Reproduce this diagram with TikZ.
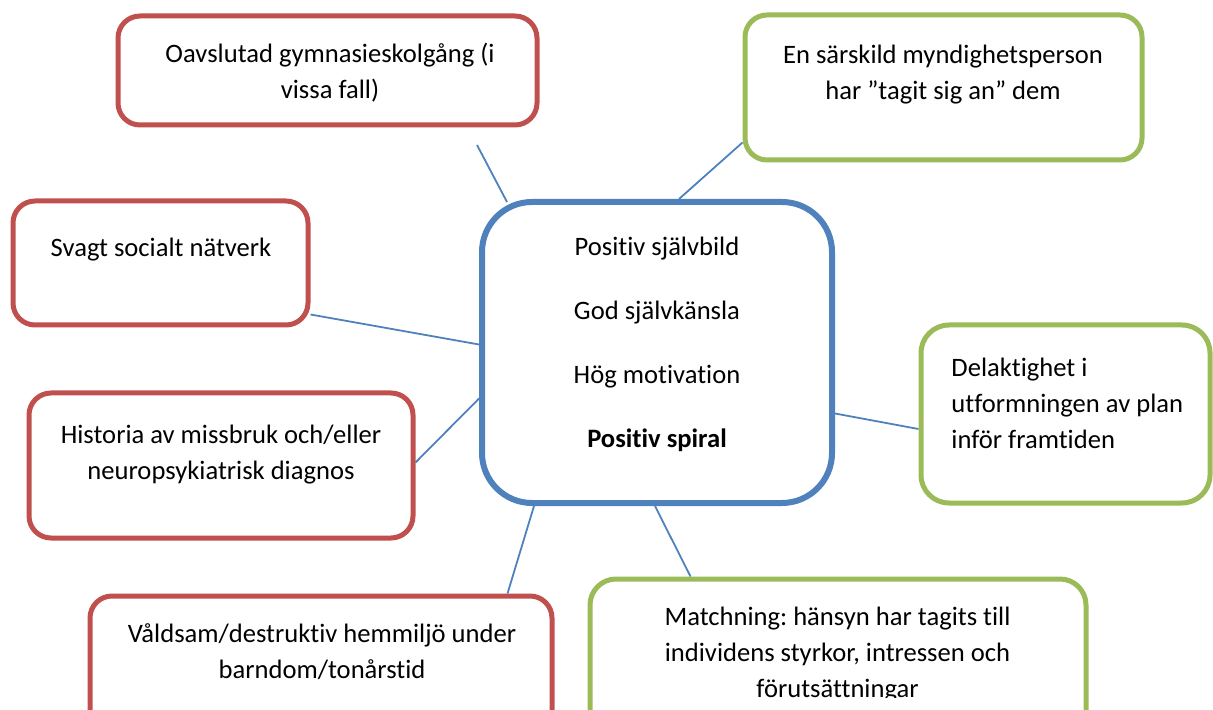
\documentclass[tikz,border=0pt]{standalone}
\usepackage{fontspec}
\setmainfont{Carlito}[Ligatures={NoCommon}]
\frenchspacing
\usetikzlibrary{calc}
\definecolor{boxred}{HTML}{C0504D}
\definecolor{boxgreen}{HTML}{9BBB59}
\definecolor{boxblue}{HTML}{4F81BD}

\begin{document}
\begin{tikzpicture}[x=0.5pt, y=-0.5pt,
	box/.style={draw, rounded corners=11pt, line width=2.5pt, inner sep=0pt},
	redbox/.style={box, draw=boxred},
	greenbox/.style={box, draw=boxgreen},
	bluebox/.style={box, draw=boxblue, line width=3pt, rounded corners=25pt},
	txt/.style={align=center, font=\fontsize{13.3}{18}\selectfont, inner sep=0pt},
	link/.style={draw=boxblue, line width=0.9pt}]

	% page frame, the bottom boxes run off the page
	\useasboundingbox (0,0) rectangle (1213,710);
	\clip (0,0) rectangle (1213,710);

	% centre box
	\node[bluebox, minimum width=175pt, minimum height=150.5pt] (ctr) at (657,352.5) {};
	\node[txt, font=\fontsize{13.3}{32}\selectfont] (ctrtxt) at (657,344)
		{Positiv självbild\\God självkänsla\\Hög motivation\\\textbf{Positiv spiral}};

	% red boxes (risk)
	\node[redbox, minimum width=209.5pt, minimum height=54.5pt] (gym) at (327.5,70.5) {};
	\node[txt] (gymtxt) at (330,73) {Oavslutad gymnasieskolgång (i\\vissa fall)};

	\node[redbox, minimum width=147.5pt, minimum height=62pt] (svagt) at (160.5,263) {};
	\node[txt] (svagttxt) at (161,250) {Svagt socialt nätverk};

	\node[redbox, minimum width=192pt, minimum height=72.5pt] (hist) at (221,465.5) {};
	\node[txt] (histtxt) at (221,455) {Historia av missbruk och/eller\\neuropsykiatrisk diagnos};

	\node[redbox, minimum width=231pt, minimum height=72pt] (vald) at (321,668) {};
	\node[txt] (valdtxt) at (322,652) {Våldsam/destruktiv hemmiljö under\\barndom/tonårstid};

	% green boxes (protective)
	\node[greenbox, minimum width=198.5pt, minimum height=72.5pt] (myn) at (943.5,87.5) {};
	\node[txt] (myntxt) at (943,75) {En särskild myndighetsperson\\har ”tagit sig an” dem};

	\node[greenbox, rounded corners=14pt, minimum width=144.5pt, minimum height=89pt] (del) at (1065.5,414) {};
	\node[txt, align=left, anchor=west] (deltxt) at (951,403)
		{Delaktighet i\\utformningen av plan\\inför framtiden};

	\node[greenbox, rounded corners=13pt, minimum width=248pt, minimum height=80.5pt] (match) at (838,659.5) {};
	\begin{scope} % text box cuts the last line
	\clip (595,560) rectangle (1080,697);
	\node[txt] (matchtxt) at (837.5,655)
		{Matchning: hänsyn har tagits till\\individens styrkor, intressen och\\förutsättningar};
	\end{scope}

	% connectors
	\coordinate (gymend) at (477,145);
	\draw[link] (gymend) -- ($(ctr.north west)+(28,3)$);
	\draw[link] ($(myn.south west)+(0,-20)$) -- ($(ctr.north west)+(200,0)$);
	\draw[link] ($(svagt.south east)+(0,-13)$) -- ($(ctr.west)+(0,-8)$);
	\draw[link] ($(hist.east)+(0,-3)$) -- ($(ctr.west)+(0,46)$);
	\draw[link] ($(ctr.east)+(0,61)$) -- ($(del.west)+(0,15)$);
	\draw[link] ($(ctr.south west)+(55,0)$) -- ($(vald.north west)+(420,0)$);
	\draw[link] ($(ctr.south west)+(176,0)$) -- ($(match.north west)+(103,0)$);
\end{tikzpicture}
\end{document}
